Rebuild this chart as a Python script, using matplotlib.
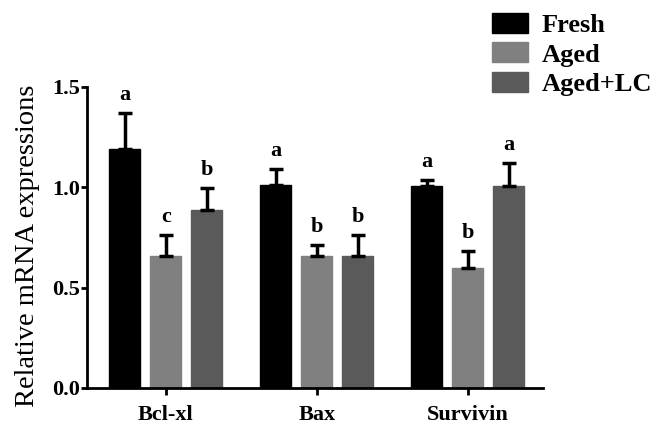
import numpy as np
import matplotlib
matplotlib.use('Agg')
import matplotlib.pyplot as plt

# data
genes = ['Bcl-xl', 'Bax', 'Survivin']
groups = ['Fresh', 'Aged', 'Aged+LC']
fresh = [1.19, 1.01, 1.005]
aged = [0.66, 0.66, 0.60]
aged_lc = [0.885, 0.66, 1.005]
fresh_err = [0.18, 0.08, 0.03]
aged_err = [0.10, 0.05, 0.08]
aged_lc_err = [0.11, 0.10, 0.115]
letters = [['a', 'a', 'a'], ['c', 'b', 'b'], ['b', 'b', 'a']]

colors = ['#000000', '#808080', '#5a5a5a']

plt.rcParams['font.family'] = ['Liberation Serif', 'DejaVu Serif']

fig = plt.figure(figsize=(6.62, 4.24), dpi=100)
ax = fig.add_axes([0.131, 0.085, 0.689, 0.71])

x = np.arange(len(genes))
w = 0.205
off = 0.272
vals = [fresh, aged, aged_lc]
errs = [fresh_err, aged_err, aged_lc_err]
for i in range(3):
    xi = x + (i - 1) * off
    ax.bar(xi, vals[i], w, color=colors[i], edgecolor=colors[i], label=groups[i])
    ax.errorbar(xi, vals[i], yerr=[np.zeros(3), errs[i]], fmt='none',
                ecolor='black', elinewidth=2.5, capsize=5, capthick=2.5)
    for j in range(3):
        ax.text(xi[j], vals[i][j] + errs[i][j] + 0.04, letters[i][j],
                ha='center', va='bottom', fontsize=16, fontweight='bold')

ax.set_xlim(-0.523, 2.497)
ax.set_ylim(0, 1.5)
ax.set_yticks([0, 0.5, 1.0, 1.5])
ax.set_yticklabels(['0.0', '0.5', '1.0', '1.5'])
ax.set_xticks(x)
ax.set_xticklabels(genes)
ax.spines['top'].set_visible(False)
ax.spines['right'].set_visible(False)
ax.spines['left'].set_linewidth(2)
ax.spines['bottom'].set_linewidth(2)
ax.tick_params(width=2, labelsize=16)
ax.tick_params(axis='y', length=4, pad=1)
ax.tick_params(axis='x', length=5, pad=7.5)
for lab in ax.get_xticklabels() + ax.get_yticklabels():
    lab.set_fontweight('bold')
ax.set_ylabel('Relative mRNA expressions', fontsize=20.5)
ax.yaxis.set_label_coords(-0.102, 0.472)

ax.legend(loc='upper left', bbox_to_anchor=(0.743, 0.97), bbox_transform=fig.transFigure,
          frameon=False, prop={'size': 19, 'weight': 'bold'}, borderpad=0, borderaxespad=0,
          handlelength=1.38, handleheight=0.8, labelspacing=0.2, handletextpad=0.5)

fig.savefig('out.png', dpi=100)
